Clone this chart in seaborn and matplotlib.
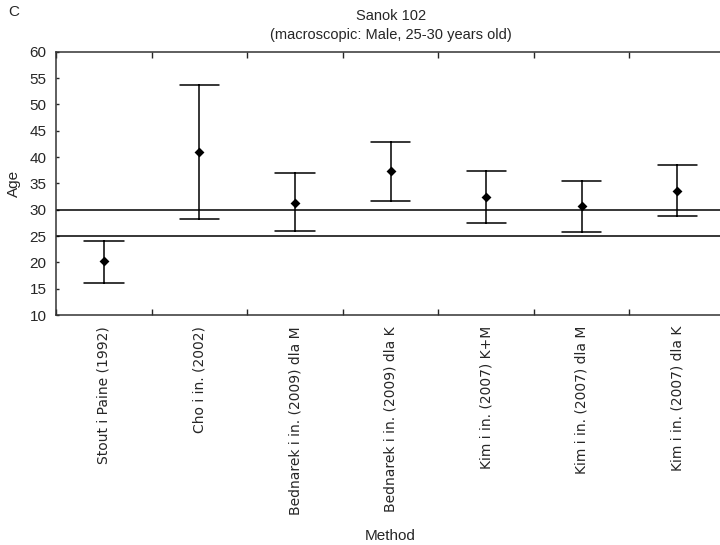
import matplotlib
matplotlib.use("Agg")
import matplotlib.pyplot as plt
import numpy as np
import pandas as pd
import seaborn as sns

# Data: mean with lower/upper interval ends
methods = ['Stout i Paine (1992)', 'Cho i in. (2002)', 'Bednarek i in. (2009) dla M',
           'Bednarek i in. (2009) dla K', 'Kim i in. (2007) K+M', 'Kim i in. (2007) dla M',
           'Kim i in. (2007) dla K']
mean_age = [20.2, 40.9, 31.2, 37.4, 32.4, 30.8, 33.5]
lower_age = [16.1, 28.3, 25.9, 31.7, 27.4, 25.8, 28.8]
upper_age = [24.1, 53.6, 36.9, 42.8, 37.4, 35.5, 38.5]
ref_lines = [25, 30]

# long table: median of (low, mean, high) is the mean, 100% interval is low..high
df = pd.DataFrame({
    'Method': methods * 3,
    'Age': lower_age + mean_age + upper_age,
})
df['Method'] = pd.Categorical(df['Method'], categories=methods, ordered=True)

sns.set_style('ticks')
plt.rcParams['font.family'] = ['Liberation Sans', 'DejaVu Sans']

fig = plt.figure(figsize=(7.2, 5.45), dpi=100)
ax = fig.add_axes([0.078, 0.422, 0.929, 0.483])

for y in ref_lines:
    ax.axhline(y, color='black', lw=1.1, zorder=1)

sns.pointplot(data=df, x='Method', y='Age', estimator='median', errorbar=('pi', 100),
              capsize=0.41, linestyle='none', marker='D', markersize=3,
              color='black', err_kws={'linewidth': 1.1}, ax=ax)

ax.set_xlim(-0.5, 6.5)
ax.set_ylim(10, 60)
ax.set_yticks(np.arange(10, 61, 5))
ax.set_xticks(np.arange(-0.5, 7, 1), minor=True)
ax.tick_params(axis='x', which='major', length=0, labelsize=10, labelrotation=90, pad=8)
ax.tick_params(axis='x', which='minor', direction='in', length=4, top=True, width=1)
ax.tick_params(axis='y', labelsize=11, length=2, width=1, direction='in', pad=7)
for lab in ax.get_xticklabels():
    lab.set_family(['DejaVu Sans'])
for s in ax.spines.values():
    s.set_visible(True)
    s.set_linewidth(1.1)
    s.set_color('#333333')

ax.set_xlabel('Method', fontsize=11, labelpad=10)
ax.set_ylabel('Age', fontsize=11, labelpad=6)
ax.set_title('Sanok 102\n(macroscopic: Male, 25-30 years old)', fontsize=10.5, pad=9,
             linespacing=1.5)
fig.text(0.012, 0.99, 'C', fontsize=11, va='top', ha='left')

fig.savefig('out.png', dpi=100)
